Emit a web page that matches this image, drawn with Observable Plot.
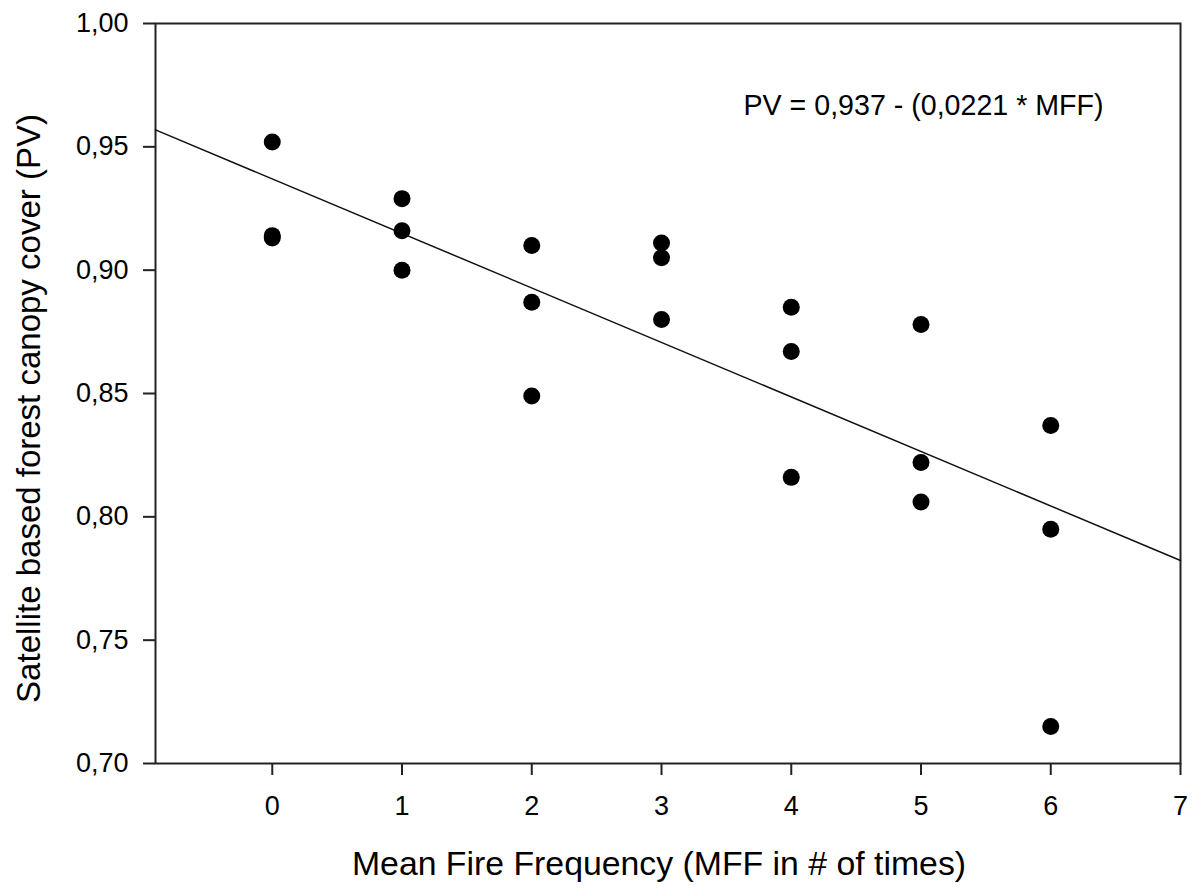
<!DOCTYPE html>
<html>
<head>
<meta charset="utf-8">
<script src="https://cdn.jsdelivr.net/npm/d3@7"></script>
<script src="https://cdn.jsdelivr.net/npm/@observablehq/plot@0.6"></script>
<style>
  html, body { margin: 0; padding: 0; background: #fff; }
  #chart { width: 1194px; height: 888px; }
</style>
</head>
<body>
<div id="chart"></div>
<script>
// Mean Fire Frequency (x) and canopy cover PV (y) for each sample
const mff = [0, 0, 0, 1, 1, 1, 2, 2, 2, 3, 3, 3, 4, 4, 4, 5, 5, 5, 6, 6, 6];
const pv  = [0.952, 0.914, 0.913, 0.929, 0.916, 0.900, 0.910, 0.887, 0.849,
             0.911, 0.905, 0.880, 0.885, 0.867, 0.816, 0.878, 0.822, 0.806,
             0.837, 0.795, 0.715];

// Regression line given on the chart: PV = 0.937 - 0.0221 * MFF
const fitIntercept = 0.937;
const fitSlope = -0.0221;

const xDomain = [-0.9, 7];
const yDomain = [0.70, 1.00];
const xTicks = [0, 1, 2, 3, 4, 5, 6, 7];
const yTicks = [0.70, 0.75, 0.80, 0.85, 0.90, 0.95, 1.00];

const equationText = "PV = 0,937 - (0,0221 * MFF)";
const xLabel = "Mean Fire Frequency (MFF in # of times)";
const yLabel = "Satellite based forest canopy cover (PV)";

const points = mff.map((x, i) => ({x, y: pv[i]}));
const fitLine = xDomain.map(x => ({x, y: fitIntercept + fitSlope * x}));

const font = "'Liberation Sans', Arial, sans-serif";

const chart = Plot.plot({
  width: 1194,
  height: 888,
  marginLeft: 155,
  marginTop: 23,
  marginRight: 14,
  marginBottom: 125,
  style: {fontFamily: font, color: "#000", background: "#fff", overflow: "visible"},
  x: {domain: xDomain},
  y: {domain: yDomain},
  marks: [
    Plot.axisY({ticks: yTicks, tickFormat: d => d.toFixed(2).replace(".", ","),
                tickSize: 12, tickPadding: 15, fontSize: 27, label: null,
                stroke: "#222", strokeWidth: 2}),
    Plot.axisX({ticks: xTicks, tickFormat: d => String(d),
                tickSize: 12, tickPadding: 20, fontSize: 27, label: null,
                stroke: "#222", strokeWidth: 2}),
    Plot.frame({stroke: "#222", strokeWidth: 2}),
    Plot.line(fitLine, {x: "x", y: "y", stroke: "#111", strokeWidth: 1.5}),
    Plot.dot(points, {x: "x", y: "y", r: 8.5, fill: "#000", stroke: "none"}),
    Plot.text([equationText], {text: d => d, frameAnchor: "top-right", textAnchor: "end",
                lineAnchor: "middle", dx: -77, dy: 82, fontSize: 28.6, fill: "#000"}),
    Plot.text([xLabel], {text: d => d, frameAnchor: "bottom", lineAnchor: "middle",
                dx: -9, dy: 101, fontSize: 33.8, fill: "#000"}),
    Plot.text([yLabel], {text: d => d, frameAnchor: "left", rotate: -90, lineAnchor: "middle",
                textAnchor: "middle", dx: -126, dy: 15, fontSize: 33, fill: "#000"})
  ]
});
document.getElementById("chart").appendChild(chart);
</script>
</body>
</html>
